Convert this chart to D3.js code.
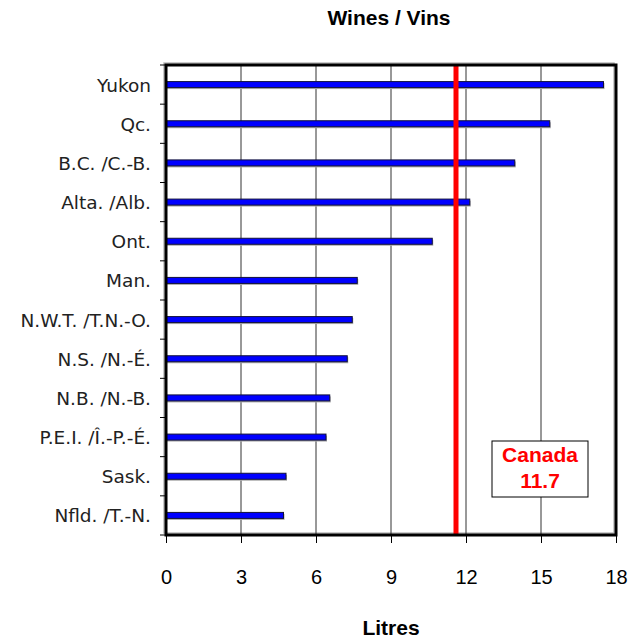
<!DOCTYPE html>
<html>
<head>
<meta charset="utf-8">
<script src="https://cdn.jsdelivr.net/npm/d3@7"></script>
<style>
  body { margin: 0; background: #fff; }
  svg { display: block; }
</style>
</head>
<body>
<div id="chart"></div>
<script>
// provinces, top to bottom
const provinces = ["Yukon", "Qc.", "B.C. /C.-B.", "Alta. /Alb.", "Ont.", "Man.",
    "N.W.T. /T.N.-O.", "N.S. /N.-É.", "N.B. /N.-B.", "P.E.I. /Î.-P.-É.", "Sask.", "Nfld. /T.-N."];
const litres = [17.5, 15.35, 13.95, 12.15, 10.65, 7.65, 7.45, 7.25, 6.55, 6.4, 4.8, 4.7];
const xTicks = [0, 3, 6, 9, 12, 15, 18];
const canadaLine = 11.6;
const canadaLabel = ["Canada", "11.7"];

function drawChart() {
    let width = 635, height = 641;
    let plot = { left: 166, right: 616, top: 65, bottom: 535 };

    let svg = d3.select("#chart").append("svg")
        .attr("width", width)
        .attr("height", height);

    let x = d3.scaleLinear()
        .domain([0, 18])
        .range([plot.left, plot.right]);
    let y = d3.scaleBand()
        .domain(provinces)
        .range([plot.top, plot.bottom]);

    // title + axis title
    svg.append("text")
        .attr("x", 389)
        .attr("y", 25)
        .attr("text-anchor", "middle")
        .style("font", "bold 21px 'Liberation Sans', Arial, sans-serif")
        .text("Wines / Vins");
    svg.append("text")
        .attr("x", 391)
        .attr("y", 635)
        .attr("text-anchor", "middle")
        .style("font", "bold 21px 'Liberation Sans', Arial, sans-serif")
        .text("Litres");

    // shadow of frame
    svg.append("rect")
        .attr("x", plot.left - 2).attr("y", plot.top - 2)
        .attr("width", plot.right - plot.left).attr("height", plot.bottom - plot.top)
        .attr("fill", "none").attr("stroke", "#bbb").attr("stroke-width", 1.5);

    // gridlines
    svg.append("g")
        .selectAll("line")
        .data(xTicks.slice(1, -1))
        .join("line")
        .attr("x1", d => x(d)).attr("x2", d => x(d))
        .attr("y1", plot.top).attr("y2", plot.bottom)
        .attr("stroke", "#333").attr("stroke-width", 1);

    // x axis
    let xAxis = svg.append("g")
        .attr("transform", `translate(0,${plot.bottom})`)
        .call(d3.axisBottom(x).tickValues(xTicks).tickSize(8).tickPadding(27));
    xAxis.select(".domain").remove();
    xAxis.selectAll("line").attr("stroke", "#000");
    xAxis.selectAll("text")
        .style("font", "20px 'Liberation Sans', Arial, sans-serif")
        .attr("fill", "#000");

    // y axis: ticks at category boundaries
    let bounds = provinces.map(p => y(p)).concat([plot.bottom]);
    svg.append("g")
        .selectAll("line")
        .data(bounds)
        .join("line")
        .attr("x1", plot.left - 6).attr("x2", plot.left)
        .attr("y1", d => d).attr("y2", d => d)
        .attr("stroke", "#000");
    svg.append("g")
        .selectAll("text")
        .data(provinces)
        .join("text")
        .attr("x", 151)
        .attr("y", d => y(d) + y.bandwidth() / 2 + 7)
        .attr("text-anchor", "end")
        .style("font", "18.5px 'DejaVu Sans', sans-serif")
        .attr("fill", "#222")
        .text(d => d);

    // bars
    let barH = 6;
    let bars = svg.append("g");
    bars.selectAll(".shadow")
        .data(provinces)
        .join("rect")
        .attr("class", "shadow")
        .attr("x", x(0) + 1)
        .attr("y", d => y(d) + y.bandwidth() / 2 - barH / 2 + 1.5)
        .attr("width", (d, i) => x(litres[i]) - x(0))
        .attr("height", barH)
        .attr("fill", "#aaa");
    bars.selectAll(".bar")
        .data(provinces)
        .join("rect")
        .attr("class", "bar")
        .attr("x", x(0))
        .attr("y", d => y(d) + y.bandwidth() / 2 - barH / 2)
        .attr("width", (d, i) => x(litres[i]) - x(0))
        .attr("height", barH)
        .attr("fill", "#0000ff")
        .attr("stroke", "#12123a")
        .attr("stroke-width", 1);

    // Canada average line
    svg.append("line")
        .attr("x1", x(canadaLine)).attr("x2", x(canadaLine))
        .attr("y1", plot.top).attr("y2", plot.bottom)
        .attr("stroke", "#ff0000").attr("stroke-width", 5);

    // frame
    svg.append("rect")
        .attr("x", plot.left).attr("y", plot.top)
        .attr("width", plot.right - plot.left).attr("height", plot.bottom - plot.top)
        .attr("fill", "none").attr("stroke", "#000").attr("stroke-width", 3);

    // Canada label box
    let box = svg.append("g");
    box.append("rect")
        .attr("x", 492).attr("y", 441)
        .attr("width", 96).attr("height", 56)
        .attr("fill", "#fff").attr("stroke", "#000").attr("stroke-width", 1);
    box.selectAll("text")
        .data(canadaLabel)
        .join("text")
        .attr("x", 540)
        .attr("y", (d, i) => 462 + i * 26)
        .attr("text-anchor", "middle")
        .style("font", "bold 21px 'Liberation Sans', Arial, sans-serif")
        .attr("fill", "#ff0000")
        .text(d => d);
}

drawChart();
</script>
</body>
</html>
